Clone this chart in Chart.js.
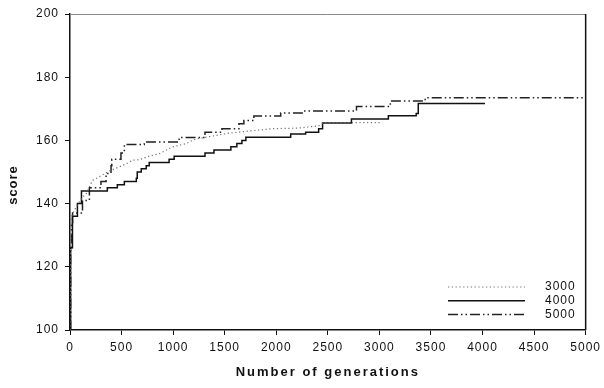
<!DOCTYPE html>
<html>
<head>
<meta charset="utf-8">
<script src="https://cdn.jsdelivr.net/npm/chart.js@4/dist/chart.umd.min.js"></script>
<style>
  html, body { margin: 0; background: #fff; }
</style>
</head>
<body>
<canvas id="chart" width="604" height="388"></canvas>
<script>
// population 3000 (dotted)
const gens3000 = [0, 6, 15, 60, 121, 159, 188, 217, 382, 546, 604, 671, 768, 865, 990, 1126, 1222, 1251, 1541, 1957, 2217, 2411, 2459, 3010];
const score3000 = [100, 126, 136, 139, 142, 143.2, 145.2, 147.3, 150.3, 152.6, 153.7, 153.9, 155, 155.8, 157.9, 159, 160.5, 160.6, 162.3, 163.7, 163.9, 164.6, 165.6, 165.6];

// population 4000 (solid, stepped)
const gens4000 = [0, 6, 24, 72, 111, 362, 459, 527, 643, 652, 691, 739, 768, 961, 1010, 1309, 1396, 1560, 1618, 1667, 1705, 2140, 2285, 2411, 2449, 2729, 3087, 3357, 3377, 4024];
const score4000 = [100, 126, 136, 140, 144, 145, 146, 147, 148, 150, 151, 152, 153, 154, 155, 156, 157, 158, 159, 160, 161, 162, 162.6, 163.7, 165.5, 166.8, 167.8, 168.5, 171.7, 171.7];

// population 5000 (dash-dot, stepped)
const gens5000 = [0, 6, 15, 25, 121, 188, 300, 350, 398, 405, 494, 527, 720, 1058, 1309, 1473, 1638, 1686, 1783, 2043, 2266, 2778, 3106, 3444, 5000];
const score5000 = [100, 126, 134, 137, 141, 145, 147, 149.5, 152, 154, 156, 158.7, 159.5, 160.9, 162.6, 163.7, 165.3, 166.3, 167.7, 168.7, 169.3, 170.7, 172.5, 173.5, 173.5];

const seriesNames = ["3000", "4000", "5000"];

const toPoints = (xs, ys) => xs.map((x, i) => ({ x: x, y: ys[i] }));

const frame = {
  id: "frame",
  beforeDraw(chart) {
    chart.ctx.letterSpacing = "1px";
  },
  afterDraw(chart) {
    const ctx = chart.ctx;
    const { left, top, right, bottom } = chart.chartArea;
    ctx.save();
    // top and right border
    ctx.strokeStyle = "#8a8a8a";
    ctx.lineWidth = 1;
    ctx.beginPath();
    ctx.moveTo(left, top + 0.5);
    ctx.lineTo(right, top + 0.5);
    ctx.stroke();
    ctx.strokeStyle = "#111";
    ctx.lineWidth = 1.5;
    ctx.beginPath();
    ctx.moveTo(right, top);
    ctx.lineTo(right, bottom);
    ctx.stroke();

    // axis titles
    ctx.fillStyle = "#111";
    ctx.font = "bold 13px 'Liberation Sans', Arial, sans-serif";
    ctx.letterSpacing = "2px";
    ctx.textAlign = "center";
    ctx.textBaseline = "middle";
    ctx.fillText("Number of generations", (left + right) / 2, 372);
    ctx.save();
    ctx.translate(13, 185);
    ctx.rotate(-Math.PI / 2);
    ctx.letterSpacing = "1px";
    ctx.fillText("score", 0, 0);
    ctx.restore();

    // legend
    ctx.font = "12px 'Liberation Sans', Arial, sans-serif";
    ctx.letterSpacing = "1px";
    ctx.textAlign = "left";
    chart.data.datasets.forEach((ds, i) => {
      const y = 287 + i * 13.7;
      ctx.strokeStyle = ds.borderColor;
      ctx.lineWidth = ds.borderWidth;
      ctx.setLineDash(ds.borderDash || []);
      ctx.beginPath();
      ctx.moveTo(448, y);
      ctx.lineTo(525, y);
      ctx.stroke();
      ctx.setLineDash([]);
      ctx.fillStyle = "#111";
      ctx.fillText(ds.label, 545, y);
    });
    ctx.restore();
  }
};

new Chart(document.getElementById("chart"), {
  type: "line",
  data: {
    datasets: [
      {
        label: seriesNames[0],
        data: toPoints(gens3000, score3000),
        borderColor: "#707070",
        borderWidth: 1.2,
        borderDash: [1.2, 2.6],
        pointRadius: 0,
        tension: 0,
      },
      {
        label: seriesNames[1],
        data: toPoints(gens4000, score4000),
        borderColor: "#111",
        borderWidth: 1.5,
        stepped: true,
        pointRadius: 0,
      },
      {
        label: seriesNames[2],
        data: toPoints(gens5000, score5000),
        borderColor: "#222",
        borderWidth: 1.5,
        borderDash: [10, 3, 1.5, 3, 1.5, 3],
        stepped: true,
        pointRadius: 0,
      },
    ],
  },
  options: {
    responsive: false,
    animation: false,
    devicePixelRatio: 1,
    layout: { padding: { top: 14, right: 16, left: 0, bottom: 0 } },
    plugins: { legend: { display: false }, tooltip: { enabled: false } },
    scales: {
      x: {
        type: "linear",
        min: 0,
        max: 5000,
        afterFit: (scale) => { scale.height = 58; },
        ticks: {
          stepSize: 500,
          autoSkip: false,
          maxRotation: 0,
          padding: 5,
          color: "#111",
          font: { family: "'Liberation Sans', Arial, sans-serif", size: 12 },
          callback: (v) => String(v),
        },
        grid: { drawOnChartArea: false, tickLength: 5, color: "#111" },
        border: { color: "#111", width: 1.5 },
      },
      y: {
        min: 100,
        max: 200,
        afterFit: (scale) => { scale.width = 70; },
        ticks: {
          stepSize: 20,
          padding: 6,
          color: "#111",
          font: { family: "'Liberation Sans', Arial, sans-serif", size: 12 },
          callback: (v) => String(v),
        },
        grid: { drawOnChartArea: false, tickLength: 5, color: "#111" },
        border: { color: "#111", width: 1.5 },
      },
    },
  },
  plugins: [frame],
});
</script>
</body>
</html>
